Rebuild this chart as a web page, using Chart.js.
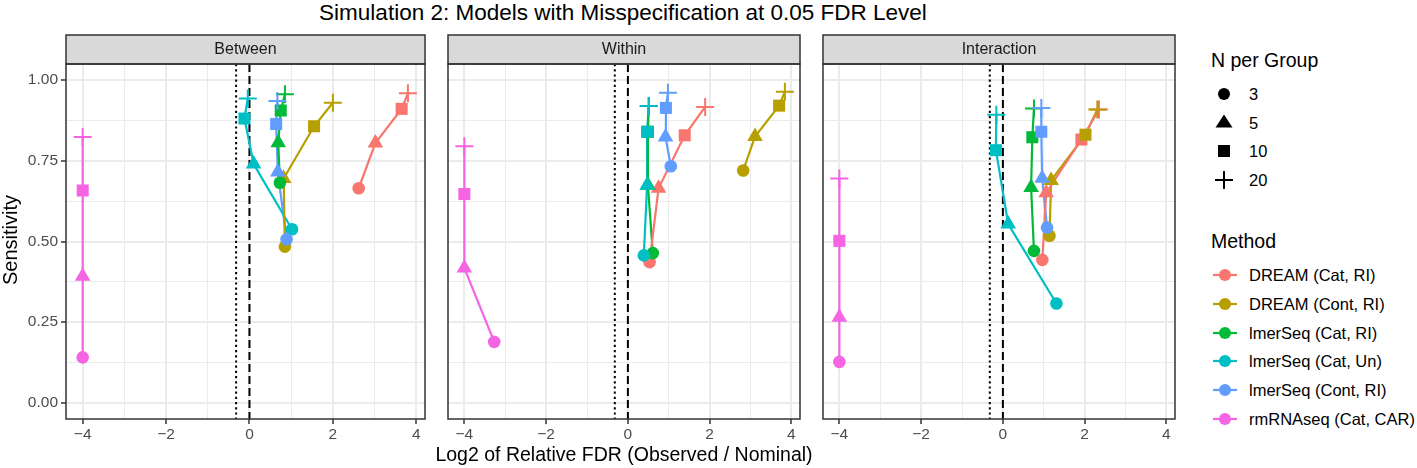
<!DOCTYPE html>
<html>
<head>
<meta charset="utf-8">
<script src="https://cdn.jsdelivr.net/npm/chart.js@4.4.0/dist/chart.umd.min.js"></script>
<style>
  body { margin: 0; background: #fff; font-family: "Liberation Sans", Arial, sans-serif; }
  #wrap { position: relative; width: 1417px; height: 468px; overflow: hidden; background: #fff; }
  canvas { position: absolute; }
  .txt { position: absolute; white-space: nowrap; color: #000; }
  svg { position: absolute; overflow: visible; }
</style>
</head>
<body>
<div id="wrap">
  <div class="txt" id="title" style="left:0;top:0;width:1246px;text-align:center;font-size:22.5px;line-height:25px;">Simulation 2: Models with Misspecification at 0.05 FDR Level</div>
  <canvas id="p0" width="436" height="412" style="left:0;top:34px;"></canvas>
  <canvas id="p1" width="374" height="412" style="left:437px;top:34px;"></canvas>
  <canvas id="p2" width="374" height="412" style="left:812px;top:34px;"></canvas>
  <div class="txt" style="left:0;top:442px;width:1248px;text-align:center;font-size:19.5px;line-height:24px;">Log2 of Relative FDR (Observed / Nominal)</div>
  <div class="txt" style="left:-50px;top:228px;width:120px;text-align:center;font-size:20px;line-height:24px;transform:rotate(-90deg);">Sensitivity</div>
</div>
<script>
// ---- data ----
const panelNames = ['Between', 'Within', 'Interaction'];
const methodNames = ['DREAM (Cat, RI)', 'DREAM (Cont, RI)', 'lmerSeq (Cat, RI)', 'lmerSeq (Cat, Un)', 'lmerSeq (Cont, RI)', 'rmRNAseq (Cat, CAR)'];
const groupSizes = ['3', '5', '10', '20'];
const xTickValues = [-4, -2, 0, 2, 4];
const yTickValues = [0, 0.25, 0.5, 0.75, 1];
const refLines = [0, -0.32]; // nominal FDR (dashed), 0.8 x nominal (dotted)

// log2 relative FDR, one row per method, columns N = 3, 5, 10, 20
const betweenFDR = [
  [2.62, 3.02, 3.65, 3.80],
  [0.85, 0.82, 1.55, 2.00],
  [0.73, 0.69, 0.75, 0.85],
  [1.02, 0.10, -0.12, -0.04],
  [0.89, 0.68, 0.64, 0.67],
  [-4, -4, -4, -4]
];
const betweenSens = [
  [0.665, 0.805, 0.911, 0.959],
  [0.484, 0.695, 0.857, 0.930],
  [0.682, 0.806, 0.906, 0.956],
  [0.538, 0.740, 0.881, 0.943],
  [0.507, 0.715, 0.864, 0.935],
  [0.141, 0.392, 0.658, 0.824]
];
const withinFDR = [
  [0.53, 0.75, 1.39, 1.89],
  [2.82, 3.11, 3.70, 3.84],
  [0.61, 0.49, 0.49, 0.51],
  [0.39, 0.47, 0.47, 0.51],
  [1.05, 0.92, 0.93, 0.98],
  [-3.27, -4, -4, -4]
];
const withinSens = [
  [0.436, 0.665, 0.829, 0.917],
  [0.720, 0.825, 0.921, 0.964],
  [0.464, 0.674, 0.840, 0.920],
  [0.457, 0.674, 0.840, 0.920],
  [0.733, 0.824, 0.914, 0.961],
  [0.189, 0.418, 0.647, 0.795]
];
const interactionFDR = [
  [0.965, 1.06, 1.92, 2.35],
  [1.14, 1.18, 2.02, 2.31],
  [0.76, 0.69, 0.72, 0.76],
  [1.31, 0.13, -0.17, -0.16],
  [1.08, 0.96, 0.94, 0.94],
  [-4, -4, -4, -4]
];
const interactionSens = [
  [0.443, 0.651, 0.816, 0.909],
  [0.518, 0.689, 0.831, 0.909],
  [0.471, 0.667, 0.823, 0.912],
  [0.308, 0.554, 0.783, 0.893],
  [0.543, 0.696, 0.840, 0.914],
  [0.127, 0.265, 0.502, 0.695]
];

// ---- styles ----
const methodColors = ['#F8766D', '#B79F00', '#00BA38', '#00BFC4', '#619CFF', '#F564E3'];
const shapeStyles = ['circle', 'triangle', 'rect', 'cross'];
const shapeRadii = [6.3, 9, 8.5, 9];
const shapeBorders = [0, 0, 0, 2];
const FONT = '"Liberation Sans", Arial, sans-serif';

// major ticks plus minor midpoints (ggplot style grid)
function withMinor(major) {
  const out = [];
  for (let i = 0; i < major.length; i++) {
    out.push(major[i]);
    if (i < major.length - 1) out.push((major[i] + major[i + 1]) / 2);
  }
  return out;
}
const isMajor = (list, v) => list.some(m => Math.abs(m - v) < 1e-9);
const fmtX = v => (v < 0 ? '\u2212' + Math.abs(v) : String(v));

const panelDecor = {
  id: 'panelDecor',
  beforeDatasetsDraw(chart) {
    const { ctx, chartArea: a, scales: { x } } = chart;
    ctx.save();
    ctx.strokeStyle = '#000';
    ctx.lineWidth = 2;
    refLines.forEach((v, i) => {
      const px = x.getPixelForValue(v);
      ctx.setLineDash(i === 0 ? [8, 4] : [2.2, 3]);
      ctx.beginPath();
      ctx.moveTo(px, a.top);
      ctx.lineTo(px, a.bottom);
      ctx.stroke();
    });
    ctx.restore();
  },
  afterDraw(chart, args, opts) {
    const { ctx, chartArea: a } = chart;
    ctx.save();
    // strip
    ctx.fillStyle = '#D9D9D9';
    ctx.fillRect(a.left, a.top - 29, a.right - a.left, 29);
    ctx.strokeStyle = '#333333';
    ctx.lineWidth = 1.5;
    ctx.strokeRect(a.left, a.top - 29, a.right - a.left, 29);
    ctx.fillStyle = '#1A1A1A';
    ctx.font = '16px ' + FONT;
    ctx.textAlign = 'center';
    ctx.textBaseline = 'middle';
    ctx.fillText(opts.label, (a.left + a.right) / 2, a.top - 14);
    // panel border
    ctx.strokeRect(a.left, a.top, a.right - a.left, a.bottom - a.top);
    ctx.restore();
  }
};

function buildDatasets(fdr, sens) {
  const lines = [], points = [];
  methodNames.forEach((m, i) => {
    const pts = groupSizes.map((n, j) => ({ x: fdr[i][j], y: sens[i][j] }));
    lines.push({
      label: m, data: pts, showLine: true, borderColor: methodColors[i],
      borderWidth: 2.2, pointRadius: 0, pointHoverRadius: 0, order: 20
    });
    points.push({
      label: m, data: pts, showLine: false,
      pointStyle: shapeStyles, pointRadius: shapeRadii, pointBorderWidth: shapeBorders,
      backgroundColor: methodColors[i], borderColor: methodColors[i], order: 10 - i
    });
  });
  return lines.concat(points);
}

function makePanel(id, p, fdr, sens) {
  const first = p === 0;
  const xAll = withMinor(xTickValues);
  const yAll = withMinor(yTickValues);
  new Chart(document.getElementById(id), {
    type: 'scatter',
    data: { datasets: buildDatasets(fdr, sens) },
    options: {
      responsive: false,
      animation: false,
      devicePixelRatio: 1,
      events: [],
      layout: { padding: { top: 30, left: first ? 0 : 4, right: 4, bottom: 0 } },
      plugins: {
        legend: { display: false },
        tooltip: { enabled: false },
        panelDecor: { label: panelNames[p] }
      },
      scales: {
        x: {
          type: 'linear', min: -4.40, max: 4.21,
          afterBuildTicks: s => { s.ticks = xAll.map(v => ({ value: v })); },
          afterFit: s => { s.height = 27; },
          border: { display: false },
          grid: {
            color: '#EBEBEB',
            lineWidth: c => (c.tick && isMajor(xTickValues, c.tick.value) ? 2 : 1),
            tickLength: 5,
            tickColor: c => (c.tick && isMajor(xTickValues, c.tick.value) ? '#333333' : 'rgba(0,0,0,0)'),
            tickWidth: 1.5
          },
          ticks: {
            autoSkip: false, maxRotation: 0, padding: 1,
            color: '#4D4D4D', font: { family: FONT, size: 15.5 },
            callback: v => (isMajor(xTickValues, v) ? fmtX(v) : '')
          }
        },
        y: {
          type: 'linear', min: -0.05, max: 1.05,
          afterBuildTicks: s => { s.ticks = yAll.map(v => ({ value: v })); },
          afterFit: s => { s.width = first ? 66 : 0; },
          border: { display: false },
          grid: {
            color: '#EBEBEB',
            lineWidth: c => (c.tick && isMajor(yTickValues, c.tick.value) ? 2 : 1),
            drawTicks: first,
            tickLength: 5,
            tickColor: c => (c.tick && isMajor(yTickValues, c.tick.value) ? '#333333' : 'rgba(0,0,0,0)'),
            tickWidth: 1.5
          },
          ticks: {
            display: first, autoSkip: false, padding: 3,
            color: '#4D4D4D', font: { family: FONT, size: 15.5 },
            callback: v => (isMajor(yTickValues, v) ? v.toFixed(2) : '')
          }
        }
      }
    },
    plugins: [panelDecor]
  });
}

makePanel('p0', 0, betweenFDR, betweenSens);
makePanel('p1', 1, withinFDR, withinSens);
makePanel('p2', 2, interactionFDR, interactionSens);

// ---- legends ----
const wrap = document.getElementById('wrap');
function addText(txt, x, yc, size) {
  const d = document.createElement('div');
  d.className = 'txt';
  d.style.left = x + 'px';
  d.style.top = (yc - 12) + 'px';
  d.style.lineHeight = '24px';
  d.style.fontSize = size + 'px';
  d.textContent = txt;
  wrap.appendChild(d);
}
function addSvg(inner, x, yc) {
  const ns = 'http://www.w3.org/2000/svg';
  const s = document.createElementNS(ns, 'svg');
  s.setAttribute('width', 24);
  s.setAttribute('height', 24);
  s.style.left = x + 'px';
  s.style.top = (yc - 12) + 'px';
  s.innerHTML = inner;
  wrap.appendChild(s);
}
const shapeSvg = [
  '<circle cx="12" cy="12" r="6" fill="#000"/>',
  '<polygon points="12,3.5 20.5,16.5 3.5,16.5" fill="#000"/>',
  '<rect x="6" y="6" width="12" height="12" fill="#000"/>',
  '<path d="M3 12H21M12 3V21" stroke="#000" stroke-width="2"/>'
];
addText('N per Group', 1211, 60, 19.5);
groupSizes.forEach((n, j) => {
  const yc = 94 + j * 28.7;
  addSvg(shapeSvg[j], 1212, yc);
  addText(n, 1249, yc, 16.5);
});
addText('Method', 1211, 241, 19.5);
methodNames.forEach((m, i) => {
  const yc = 275 + i * 28.8;
  addSvg('<path d="M0 12H24" stroke="' + methodColors[i] + '" stroke-width="2.2"/>' +
         '<circle cx="12" cy="12" r="6" fill="' + methodColors[i] + '"/>', 1213, yc);
  addText(m, 1249, yc, 16.5);
});
</script>
</body>
</html>
